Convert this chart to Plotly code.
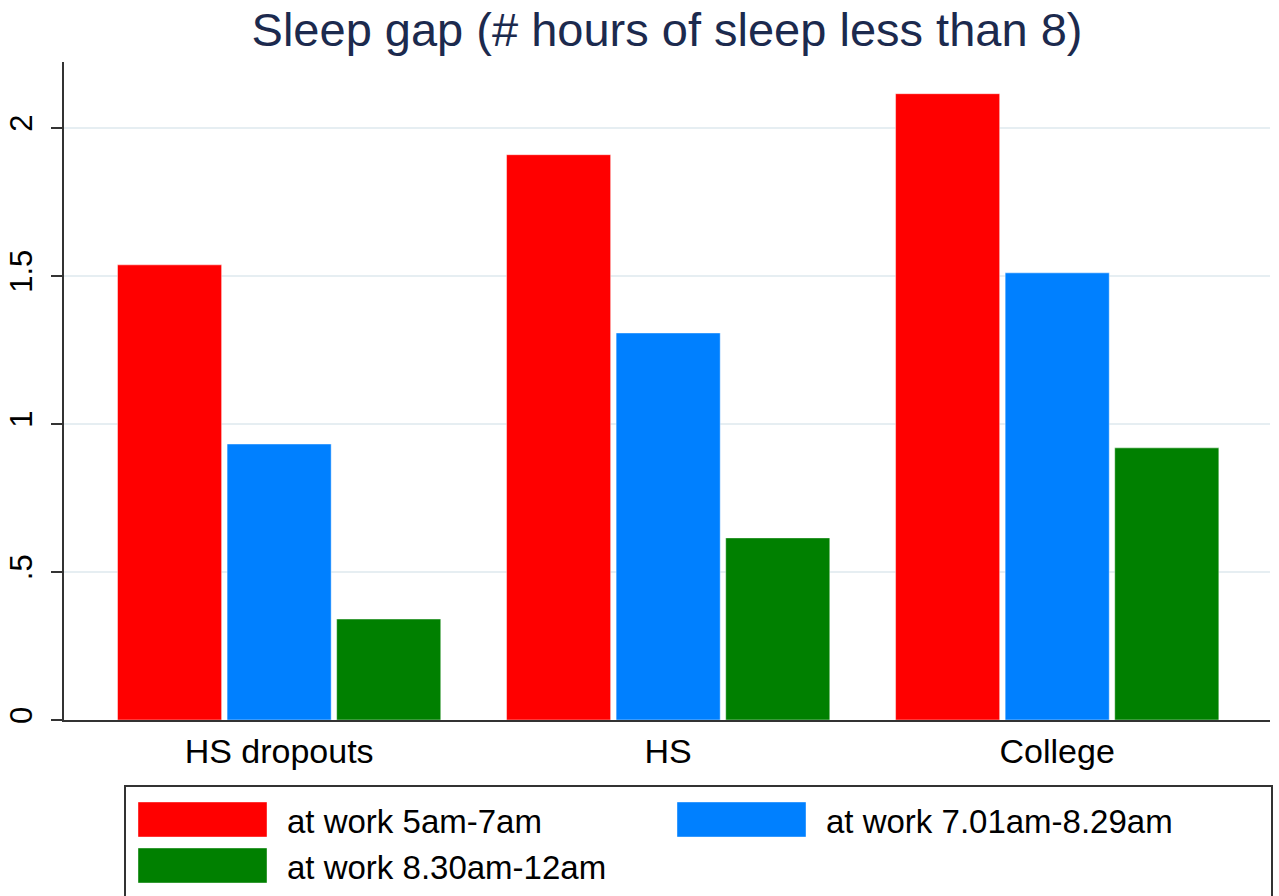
import plotly.graph_objects as go

categories = ["HS dropouts", "HS", "College"]
series_names = ["at work 5am-7am", "at work 7.01am-8.29am", "at work 8.30am-12am"]
early = [1.537, 1.909, 2.115]
middle = [0.932, 1.307, 1.510]
late = [0.341, 0.615, 0.919]
values = [early, middle, late]
colors = ["#ff0000", "#0080ff", "#008000"]
title_text = "Sleep gap (# hours of sleep less than 8)"
y_tickvals = [0, 0.5, 1, 1.5, 2]
y_ticktext = ["0", ".5", "1", "1.5", "2"]

W, H = 1279, 896
ML, MR, MT, MB = 64, 9, 62, 176
PW, PH = W - ML - MR, H - MT - MB

def px_x(px):
    return (px - ML) / PW

def px_y(py):
    return (H - MB - py) / PH

fig = go.Figure()
for name, vals, col in zip(series_names, values, colors):
    fig.add_trace(go.Bar(
        x=categories, y=vals, name=name,
        marker=dict(color=col, line=dict(color="rgba(255,255,255,0.45)", width=1)),
        showlegend=False,
    ))

fig.update_layout(
    width=W, height=H,
    margin=dict(l=ML, r=MR, t=MT, b=MB, autoexpand=False),
    paper_bgcolor="white", plot_bgcolor="white",
    barmode="group", bargap=0.155, bargroupgap=0.05,
    font=dict(family="Liberation Sans, Arial, sans-serif", color="black"),
    title=dict(text=title_text, x=0.5, xref="paper", xanchor="center",
               y=1 - 30 / H, yref="container", yanchor="middle",
               font=dict(size=47, color="#1c2a4e")),
    xaxis=dict(range=[-0.553, 2.547], showline=True, linecolor="#333333", linewidth=2,
               ticks="", tickfont=dict(size=34, color="black"), showgrid=False,
               zeroline=False, automargin=False),
    yaxis=dict(range=[0, 2.222], showline=True, linecolor="#333333", linewidth=2,
               ticks="outside", ticklen=11, tickwidth=2, tickcolor="#333333",
               tickvals=y_tickvals, ticktext=y_ticktext, tickangle=-90,
               tickfont=dict(size=31, color="black"), ticklabelstandoff=7,
               showgrid=True, gridcolor="#e6eef2", gridwidth=2, zeroline=False,
               automargin=False),
)

# Legend box (manual, to match large swatches)
shapes = [dict(type="rect", xref="paper", yref="paper",
               x0=px_x(125), x1=px_x(1272), y0=px_y(905), y1=px_y(786),
               line=dict(color="#333333", width=2), fillcolor="white")]
annotations = []
legend_pos = [(138, 802, 285), (677, 802, 824), (138, 848, 285)]
for (sx, sy, tx), name, col in zip(legend_pos, series_names, colors):
    shapes.append(dict(type="rect", xref="paper", yref="paper",
                       x0=px_x(sx), x1=px_x(sx + 129), y0=px_y(sy + 35), y1=px_y(sy),
                       line=dict(color="rgba(255,255,255,0.4)", width=1), fillcolor=col))
    annotations.append(dict(xref="paper", yref="paper", x=px_x(tx), y=px_y(sy + 19),
                            xanchor="left", yanchor="middle", showarrow=False,
                            text=name, font=dict(size=33, color="black")))
fig.update_layout(shapes=shapes, annotations=annotations)

fig.write_html("out.html", config={"displayModeBar": False},
               post_script="document.body.style.margin='0';")
